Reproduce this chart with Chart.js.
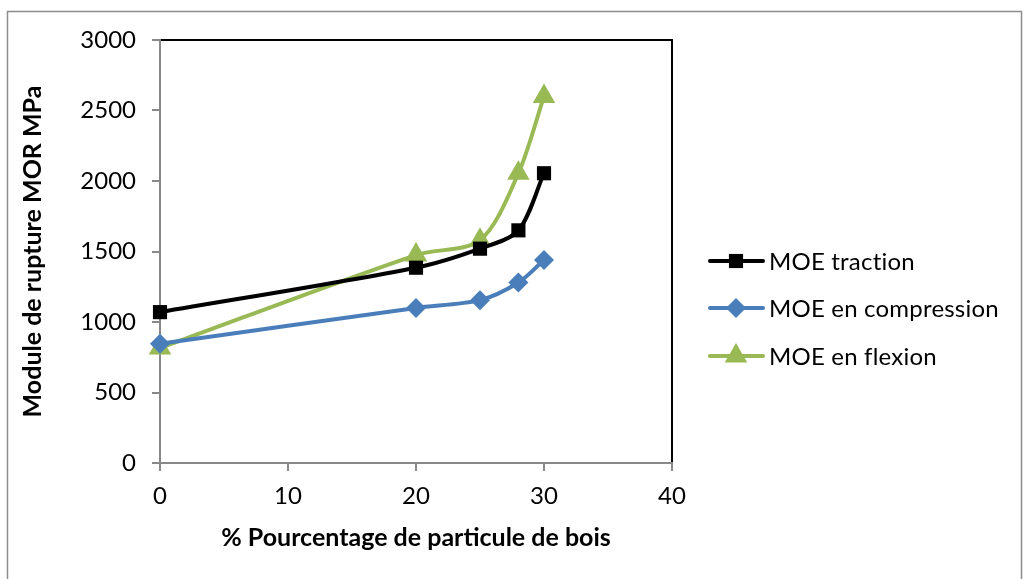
<!DOCTYPE html>
<html>
<head>
<meta charset="utf-8">
<script src="https://cdn.jsdelivr.net/npm/chart.js@4/dist/chart.umd.min.js"></script>
<style>
  html, body { margin: 0; padding: 0; background: #fff; }
  #wrap { width: 1029px; height: 579px; position: relative; }
</style>
</head>
<body>
<div id="wrap"><canvas id="c" width="1029" height="579"></canvas></div>
<script>
// Wood particle content (%)
const woodPercent = [0, 20, 25, 28, 30];
// Measured moduli (MPa)
const moeTraction = [1070, 1385, 1520, 1650, 2055];
const moeCompression = [845, 1100, 1155, 1280, 1440];
const moeFlexion = [815, 1475, 1580, 2055, 2600];

const seriesNames = ['MOE traction', 'MOE en compression', 'MOE en flexion'];
const xTitle = '% Pourcentage de particule de bois';
const yTitle = 'Module de rupture MOR MPa';

const FONT = 'Lato, "Open Sans", "Liberation Sans", sans-serif';
const AXIS_GREY = '#898989';

const toPoints = vals => vals.map((v, i) => ({ x: woodPercent[i], y: v }));

// Outer frame, plot border and the legend (line + marker + label per series)
const framePlugin = {
  id: 'frame',
  beforeDraw(chart) {
    const { ctx, chartArea: a } = chart;
    ctx.save();
    ctx.fillStyle = '#fff';
    ctx.fillRect(0, 0, chart.width, chart.height);
    ctx.strokeStyle = '#8c8c8c';
    ctx.lineWidth = 1.5;
    ctx.strokeRect(7.5, 11.5, 1014, 600);
    ctx.strokeStyle = '#000';
    ctx.lineWidth = 2;
    ctx.strokeRect(a.left, a.top, a.right - a.left, a.bottom - a.top);
    ctx.restore();
  },
  afterDraw(chart) {
    const { ctx } = chart;
    const rows = [261, 308, 356];
    ctx.save();
    chart.data.datasets.forEach((ds, i) => {
      const y = rows[i];
      ctx.strokeStyle = ds.borderColor;
      ctx.lineWidth = ds.borderWidth;
      ctx.lineCap = 'round';
      ctx.beginPath();
      ctx.moveTo(710, y);
      ctx.lineTo(763, y);
      ctx.stroke();
      ctx.fillStyle = ds.pointBackgroundColor;
      ctx.strokeStyle = ds.pointBackgroundColor;
      Chart.helpers.drawPoint(ctx, {
        pointStyle: ds.pointStyle,
        radius: ds.pointRadius,
        rotation: 0,
        borderWidth: 0
      }, 736, y);
      ctx.fillStyle = '#000';
      ctx.font = '24px ' + FONT;
      if ('letterSpacing' in ctx) ctx.letterSpacing = '0.2px';
      ctx.textBaseline = 'middle';
      ctx.textAlign = 'left';
      ctx.fillText(ds.label, 769, y + 1);
    });
    ctx.restore();
  }
};

const mk = (label, vals, color, style, r) => ({
  label,
  data: toPoints(vals),
  borderColor: color,
  backgroundColor: color,
  pointBackgroundColor: color,
  pointBorderColor: color,
  pointBorderWidth: 0,
  pointStyle: style,
  pointRadius: r,
  borderWidth: 4,
  tension: 0.3,
  clip: false,
  fill: false
});

const plain = v => String(v);

new Chart(document.getElementById('c'), {
  type: 'line',
  data: {
    datasets: [
      mk(seriesNames[0], moeTraction, '#000000', 'rect', 10),
      mk(seriesNames[1], moeCompression, '#4a7ebb', 'rectRot', 10),
      mk(seriesNames[2], moeFlexion, '#98b954', 'triangle', 13)
    ]
  },
  options: {
    responsive: false,
    animation: false,
    layout: { padding: { top: 40, right: 357, left: 0, bottom: 0 } },
    plugins: { legend: { display: false }, tooltip: { enabled: false } },
    scales: {
      x: {
        type: 'linear',
        min: 0, max: 40,
        ticks: { stepSize: 10, color: '#000', font: { family: FONT, size: 24 }, padding: 11, callback: plain },
        grid: { drawOnChartArea: false, drawTicks: true, tickLength: 8, color: AXIS_GREY, lineWidth: 2 },
        border: { color: AXIS_GREY, width: 2 },
        title: { display: true, text: xTitle, color: '#000', font: { family: FONT, size: 25, weight: 'bold' }, padding: { top: 0, bottom: 26 } },
        afterFit(s) { s.height = 116; }
      },
      y: {
        min: 0, max: 3000,
        ticks: { stepSize: 500, color: '#000', font: { family: FONT, size: 24 }, padding: 16, callback: plain },
        grid: { drawOnChartArea: false, drawTicks: true, tickLength: 8, color: AXIS_GREY, lineWidth: 2 },
        border: { color: AXIS_GREY, width: 2 },
        title: { display: true, text: yTitle, color: '#000', font: { family: FONT, size: 25, weight: 'bold' }, padding: { top: 18, bottom: 0 } },
        afterFit(s) { s.width = 160; }
      }
    }
  },
  plugins: [framePlugin]
});
</script>
</body>
</html>
